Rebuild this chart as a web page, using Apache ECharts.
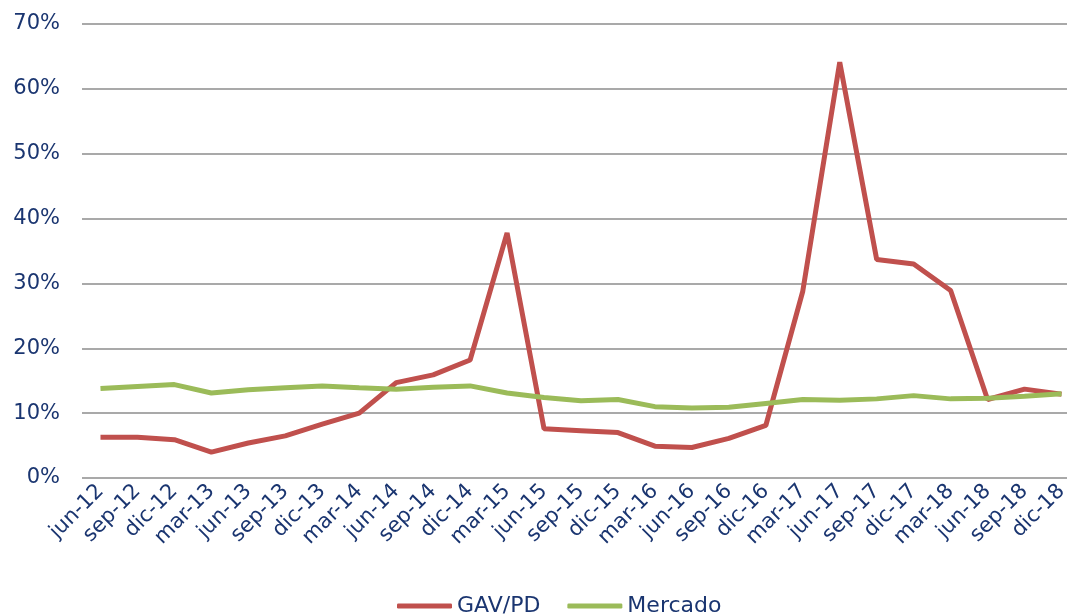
<!DOCTYPE html>
<html>
<head>
<meta charset="utf-8">
<script src="https://cdn.jsdelivr.net/npm/echarts@6/dist/echarts.min.js"></script>
<style>
  html, body { margin: 0; padding: 0; background: #fff; }
  #main { width: 1067px; height: 616px; }
</style>
</head>
<body>
<div id="main"></div>
<script>
// trimestres
const categories = ['jun-12', 'sep-12', 'dic-12', 'mar-13', 'jun-13', 'sep-13', 'dic-13', 'mar-14', 'jun-14',
  'sep-14', 'dic-14', 'mar-15', 'jun-15', 'sep-15', 'dic-15', 'mar-16', 'jun-16', 'sep-16', 'dic-16',
  'mar-17', 'jun-17', 'sep-17', 'dic-17', 'mar-18', 'jun-18', 'sep-18', 'dic-18']

// valores en %
const gavpd = [6.3, 6.3, 5.9, 4.0, 5.4, 6.5, 8.3, 10.0, 14.7, 15.9, 18.2, 37.8, 7.6, 7.3, 7.0, 4.9, 4.7,
  6.1, 8.1, 28.8, 64.1, 33.7, 33.0, 28.9, 12.1, 13.7, 12.9]
const mercado = [13.8, 14.1, 14.4, 13.1, 13.6, 13.9, 14.2, 13.9, 13.7, 14.0, 14.2, 13.1, 12.4, 11.9, 12.1,
  11.0, 10.8, 10.9, 11.5, 12.1, 12.0, 12.2, 12.7, 12.2, 12.3, 12.6, 13.0]

const navy = '#1A3570'
const font = 'Verdana, "DejaVu Sans", sans-serif'

const myChart = echarts.init(document.getElementById('main'))

const option = {
  animation: false,
  textStyle: { fontFamily: font },
  grid: {
    left: 82,
    right: -13,
    top: 24,
    bottom: 138,
    outerBoundsMode: 'none',
  },
  legend: {
    left: 392,
    top: 590,
    icon: 'roundRect',
    itemWidth: 55,
    itemHeight: 5,
    itemGap: 27,
    textStyle: { fontSize: 22, color: navy, fontFamily: font },
    data: ['GAV/PD', 'Mercado'],
  },
  xAxis: {
    type: 'category',
    data: categories,
    axisLine: { show: false },
    axisTick: { show: false },
    axisLabel: {
      interval: 0,
      rotate: 45,
      margin: 10,
      fontSize: 21,
      color: navy,
      fontFamily: font,
    },
  },
  yAxis: {
    type: 'value',
    min: 0,
    max: 70,
    interval: 10,
    axisLine: { show: false },
    axisTick: { show: false },
    axisLabel: {
      formatter: '{value}%',
      fontSize: 21,
      color: navy,
      fontFamily: font,
      margin: 22,
    },
    splitLine: { lineStyle: { color: '#8c8c8c', width: 1.5 } },
  },
  series: [
    {
      name: 'GAV/PD',
      type: 'line',
      data: gavpd,
      symbol: 'none',
      color: '#C0504D',
      lineStyle: { width: 5, color: '#C0504D' },
    },
    {
      name: 'Mercado',
      type: 'line',
      data: mercado,
      symbol: 'none',
      color: '#9BBB59',
      lineStyle: { width: 5, color: '#9BBB59' },
    },
  ],
}

myChart.setOption(option)
</script>
</body>
</html>
